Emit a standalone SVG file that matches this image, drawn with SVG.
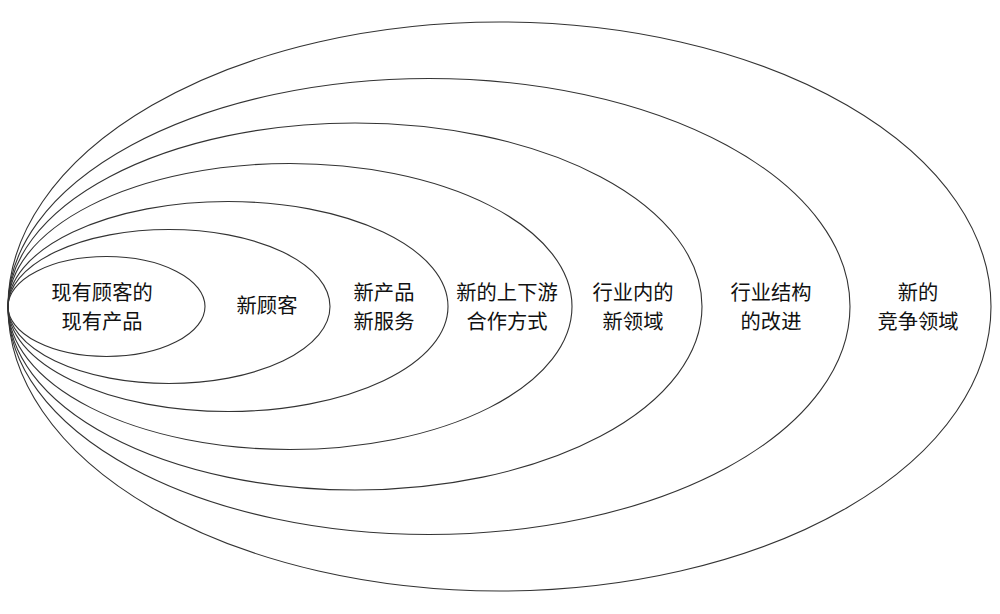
<svg xmlns="http://www.w3.org/2000/svg" width="1000" height="614" viewBox="0 0 1000 614">
<style>
.e{fill:none;stroke:#333;stroke-width:1.1}
.t{font-family:"Noto Sans CJK SC","Noto Sans",sans-serif;font-size:20.3px;fill:#111;text-anchor:middle}
</style>
<rect width="1000" height="614" fill="#fff"/>
<g id="rings">
<ellipse class="e" cx="499.5" cy="306.5" rx="491.5" ry="284.5"/>
<ellipse class="e" cx="429" cy="306.5" rx="421" ry="228"/>
<ellipse class="e" cx="355" cy="306.5" rx="347" ry="183.5"/>
<ellipse class="e" cx="290" cy="306.5" rx="282" ry="143"/>
<ellipse class="e" cx="228" cy="306.5" rx="220" ry="105"/>
<ellipse class="e" cx="169" cy="306.5" rx="161" ry="77"/>
<ellipse class="e" cx="106.5" cy="306.5" rx="98.5" ry="50"/>
</g>
<g id="n1"><text class="t" x="102" y="299.5">现有顾客的</text><text class="t" x="102" y="329">现有产品</text></g>
<g id="n2"><text class="t" x="267" y="312.5">新顾客</text></g>
<g id="n3"><text class="t" x="384" y="299.5">新产品</text><text class="t" x="384" y="329">新服务</text></g>
<g id="n4"><text class="t" x="507" y="299.5">新的上下游</text><text class="t" x="507" y="329">合作方式</text></g>
<g id="n5"><text class="t" x="633" y="299.5">行业内的</text><text class="t" x="633" y="329">新领域</text></g>
<g id="n6"><text class="t" x="771" y="299.5">行业结构</text><text class="t" x="771" y="329">的改进</text></g>
<g id="n7"><text class="t" x="918" y="299.5">新的</text><text class="t" x="918" y="329">竞争领域</text></g>
</svg>
